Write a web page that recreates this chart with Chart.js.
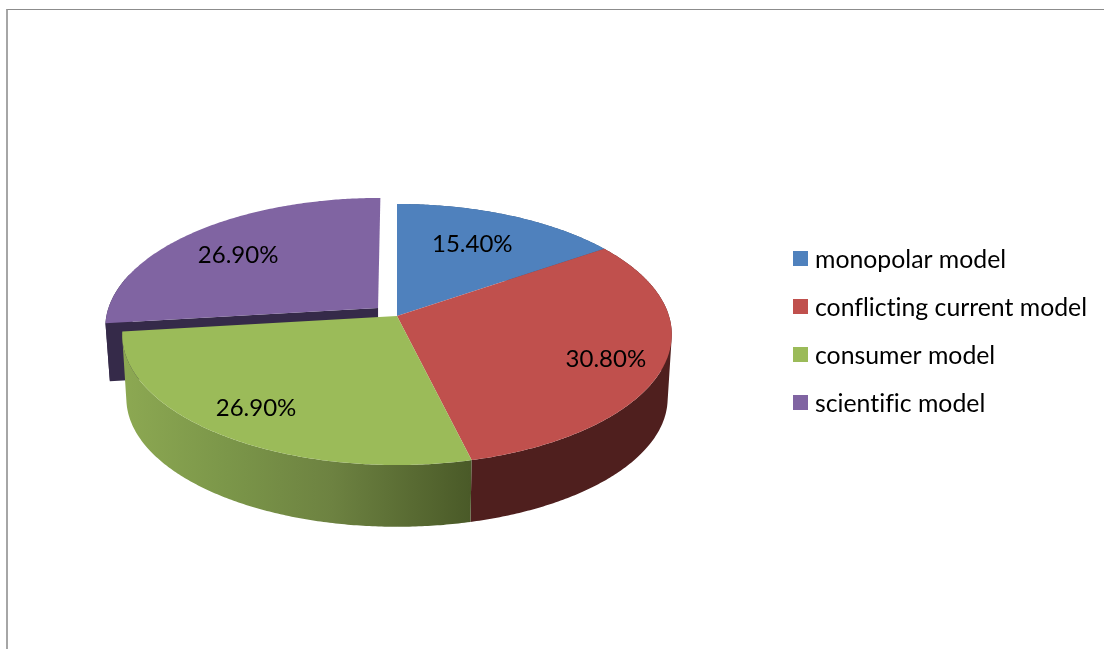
<!DOCTYPE html>
<html>
<head>
<meta charset="utf-8">
<title>Model shares</title>
<script src="https://cdn.jsdelivr.net/npm/chart.js@4"></script>
<style>
    html, body { margin: 0; padding: 0; background: #fff; }
    #frame { position: absolute; left: 6px; top: 9px; width: 1098px; height: 640px;
             border-top: 1px solid #8c8c8c; border-left: 2px solid #a6a6a6; }
    canvas { position: absolute; left: 0; top: 0; }
</style>
</head>
<body>
<div id="frame"></div>
<canvas id="pieChart" width="1104" height="649"></canvas>
<script>
const categories = ['monopolar model', 'conflicting current model', 'consumer model', 'scientific model'];
const shares = [15.4, 30.8, 26.9, 26.9];
const sliceColors = ['#4F81BD', '#C0504D', '#9BBB59', '#8064A2'];

// Excel style perspective: the flat pie disc gets projected onto the page
const apexX = 397, apexY = 316;
const scaleX = 272, scaleY = 127.9, tilt = 0.1417;
const floorY = 380, floorScale = 0.985;
const explodeIndex = 3, explode = 0.094;
const labelFont = '24px Lato, sans-serif';
const legendFont = '24.8px Lato, sans-serif';
const labelReach = [0.68, 0.8, 0.78, 0.72];
const labelNudge = [[-4, -1], [-3, 5], [-8, 2], [-5, 3]];

function project(u, v, bottom, dropFix) {
    const w = 1 - tilt * v;
    if (!bottom) return [apexX + scaleX * u / w, apexY + scaleY * v / w];
    return [apexX + floorScale * scaleX * u / w, floorY - (dropFix || 0) + floorScale * scaleY * v / w];
}

// disc point for a slice, angle measured clockwise from 12 o'clock
function discPoint(theta, r, shift) {
    return [Math.sin(theta) * r + shift[0], -Math.cos(theta) * r + shift[1]];
}

function rimPoints(a0, a1, shift, bottom, dropFix) {
    const pts = [];
    const steps = Math.ceil((a1 - a0) / 0.01);
    for (let i = 0; i <= steps; i++) {
        const d = discPoint(a0 + (a1 - a0) * i / steps, 1, shift);
        pts.push(project(d[0], d[1], bottom, dropFix));
    }
    return pts;
}

function fillPoly(ctx, pts, fill) {
    ctx.beginPath();
    pts.forEach((p, i) => i ? ctx.lineTo(p[0], p[1]) : ctx.moveTo(p[0], p[1]));
    ctx.closePath();
    ctx.fillStyle = fill;
    ctx.fill();
}

// sweep the rim down to the floor, one path so no seams show
function fillWall(ctx, top, bot, fill) {
    ctx.beginPath();
    for (let i = 0; i < top.length - 1; i++) {
        const a = top[i], b = top[i + 1], c = bot[i + 1], d = bot[i];
        // keep every quad wound the same way
        const area = (b[0] - a[0]) * (c[1] - a[1]) - (b[1] - a[1]) * (c[0] - a[0]);
        const quad = area > 0 ? [a, b, c, d] : [d, c, b, a];
        ctx.moveTo(quad[0][0], quad[0][1]);
        ctx.lineTo(quad[1][0], quad[1][1]);
        ctx.lineTo(quad[2][0], quad[2][1]);
        ctx.lineTo(quad[3][0], quad[3][1]);
        ctx.closePath();
    }
    ctx.fillStyle = fill;
    ctx.fill();
}

const pie3d = {
    id: 'pie3d',
    beforeDatasetsDraw(chart) {
        const ctx = chart.ctx;
        const slices = chart.getDatasetMeta(0).data.map((arc, i) => {
            const p = arc.getProps(['startAngle', 'endAngle'], true);
            const a0 = p.startAngle + Math.PI / 2, a1 = p.endAngle + Math.PI / 2;
            const mid = (a0 + a1) / 2;
            const off = i === explodeIndex ? explode : 0;
            return { a0, a1, mid, shift: [Math.sin(mid) * off, -Math.cos(mid) * off] };
        });

        // exploded slice first, it sits behind the others
        const s = slices[explodeIndex];
        const fix = 6;
        const apexTop = project(s.shift[0], s.shift[1], false);
        const apexBot = project(s.shift[0], s.shift[1], true, fix);
        const wallTop = rimPoints(s.a0, s.a0 + 0.4, s.shift, false);
        const wallBot = rimPoints(s.a0, s.a0 + 0.4, s.shift, true, fix);
        fillWall(ctx, wallTop, wallBot, '#352A49');
        fillPoly(ctx, [wallTop[0], apexTop, apexBot, wallBot[0]], '#352A49');
        fillPoly(ctx, [apexTop].concat(rimPoints(s.a0, s.a1, s.shift, false)), sliceColors[explodeIndex]);

        // side walls
        const greenWall = ctx.createLinearGradient(125, 0, 470, 0);
        greenWall.addColorStop(0, '#8CA852');
        greenWall.addColorStop(0.3, '#7B9649');
        greenWall.addColorStop(0.6, '#6D8241');
        greenWall.addColorStop(1, '#4A5A28');
        const wallFill = ['#3B5A7E', '#4F1F1E', greenWall];
        [0, 1, 2].forEach(i => {
            const top = rimPoints(slices[i].a0, slices[i].a1, slices[i].shift, false);
            const bot = rimPoints(slices[i].a0, slices[i].a1, slices[i].shift, true);
            fillWall(ctx, top, bot, wallFill[i]);
        });

        // top faces
        [0, 1, 2].forEach(i => {
            fillPoly(ctx, [[apexX, apexY]].concat(rimPoints(slices[i].a0, slices[i].a1, slices[i].shift, false)), sliceColors[i]);
        });

        // value labels
        ctx.textRendering = 'optimizeSpeed';
        ctx.font = labelFont;
        ctx.fillStyle = '#000';
        ctx.textAlign = 'center';
        ctx.textBaseline = 'middle';
        slices.forEach((sl, i) => {
            const d = discPoint(sl.mid, labelReach[i], sl.shift);
            const p = project(d[0], d[1], false);
            ctx.fillText(shares[i].toFixed(2) + '%', p[0] + labelNudge[i][0], p[1] + labelNudge[i][1]);
        });

        // legend
        ctx.font = legendFont;
        ctx.textAlign = 'left';
        categories.forEach((name, i) => {
            const y = 259 + i * 48;
            ctx.fillStyle = sliceColors[i];
            ctx.fillRect(793, y - 8, 15, 15);
            ctx.fillStyle = '#000';
            ctx.fillText(name, 815, y + 1);
        });
        return false;
    }
};

const ctx = document.getElementById('pieChart').getContext('2d');
const pieChart = new Chart(ctx, {
    type: 'pie',
    data: {
        labels: categories,
        datasets: [{
            data: shares,
            backgroundColor: sliceColors,
        }]
    },
    options: {
        responsive: false,
        animation: false,
        plugins: {
            legend: { display: false },
            tooltip: { enabled: false },
        }
    },
    plugins: [pie3d]
});
</script>
</body>
</html>
